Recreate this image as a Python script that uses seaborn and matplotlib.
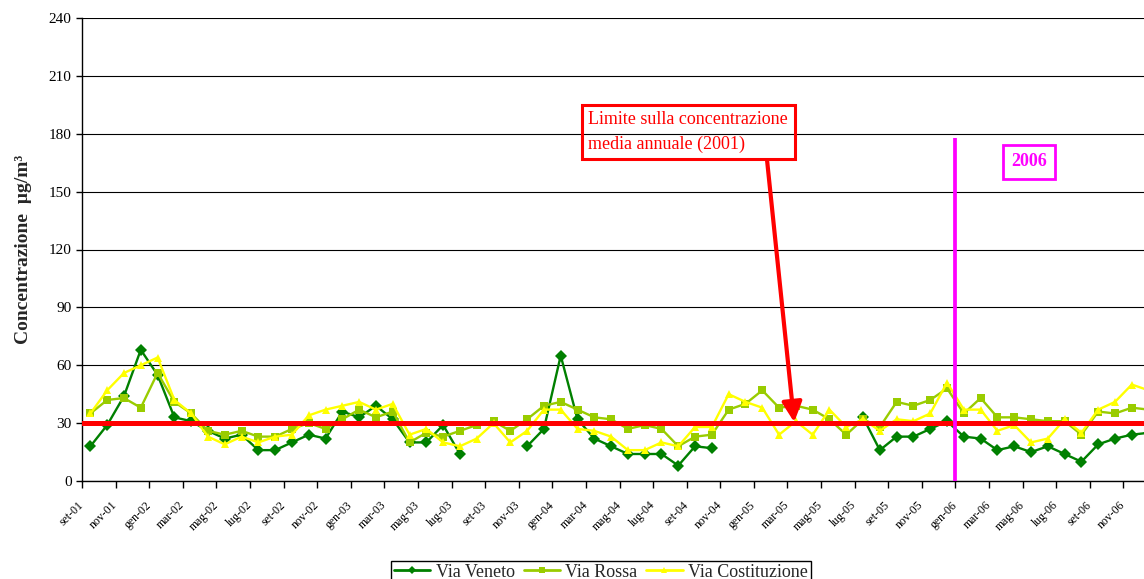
import numpy as np
import pandas as pd
import matplotlib.pyplot as plt
import matplotlib.transforms as mtransforms
import seaborn as sns
from matplotlib.lines import Line2D

# etichette ogni due mesi, da set-01 a nov-06
tick_labels = ["set-01", "nov-01", "gen-02", "mar-02", "mag-02", "lug-02", "set-02", "nov-02",
               "gen-03", "mar-03", "mag-03", "lug-03", "set-03", "nov-03", "gen-04", "mar-04",
               "mag-04", "lug-04", "set-04", "nov-04", "gen-05", "mar-05", "mag-05", "lug-05",
               "set-05", "nov-05", "gen-06", "mar-06", "mag-06", "lug-06", "set-06", "nov-06"]

# medie mensili (set-01 ... dic-06), None = dato mancante
veneto = [18, 29, 44, 68, 55, 33, 31, 26, 22, 24, 16, 16, 20, 24, 22, 36,
          33, 39, 32, 20, 20, 29, 14, None, None, None, 18, 27, 65, 32, 22, 18,
          14, 14, 14, 8, 18, 17, None, None, None, None, None, None, None, None, 33, 16,
          23, 23, 27, 31, 23, 22, 16, 18, 15, 18, 14, 10, 19, 22, 24, 25]
rossa = [35, 42, 43, 38, 56, 41, 35, 26, 24, 26, 23, 23, 27, 30, 27, 32,
         37, 33, 36, 20, 25, 23, 26, 29, 31, 26, 32, 39, 41, 37, 33, 32,
         27, 29, 27, 18, 23, 24, 37, 40, 47, 38, 39, 37, 32, 24, 32, 28,
         41, 39, 42, 48, 35, 43, 33, 33, 32, 31, 31, 24, 36, 35, 38, 37]
costituzione = [35, 47, 56, 60, 64, 42, 35, 23, 19, 23, 20, 23, 24, 34, 37, 39,
                41, 37, 40, 24, 27, 20, 18, 22, 30, 20, 26, 37, 37, 27, 26, 23,
                16, 16, 20, 18, 28, 28, 45, 41, 38, 24, 31, 24, 37, 28, 32, 26,
                32, 31, 35, 51, 37, 37, 26, 29, 20, 22, 32, 25, 37, 41, 50, 47]

stations = ["Via Veneto", "Via Rossa", "Via Costituzione"]
colors = {"Via Veneto": "#008000", "Via Rossa": "#99CC00", "Via Costituzione": "#FFFF00"}
markers = {"Via Veneto": "D", "Via Rossa": "s", "Via Costituzione": "^"}

# formato lungo, con un id di tratto per lasciare i buchi dove mancano i dati
rows = []
for name, vals in zip(stations, [veneto, rossa, costituzione]):
    seg = 0
    for i, v in enumerate(vals):
        if v is None:
            seg += 1
            continue
        rows.append({"mese": i, "valore": v, "stazione": name, "tratto": f"{name}-{seg}"})
df = pd.DataFrame(rows)

sns.set_style("ticks")
plt.rcParams["font.family"] = ["Liberation Serif", "DejaVu Serif"]

fig = plt.figure(figsize=(11.44, 5.79), dpi=100)
ax = fig.add_axes([82 / 1144, 98 / 579, 1075 / 1144, 463 / 579])

sns.lineplot(data=df, x="mese", y="valore", hue="stazione", style="stazione",
             units="tratto", estimator=None, palette=colors, markers=markers,
             dashes=False, linewidth=1.7, markersize=6, markeredgewidth=0,
             legend=False, ax=ax)

# limite annuale e inizio 2006
ax.axhline(30, color="#FF0000", lw=3.6, zorder=5)
ax.vlines(51.5, 0, 178, color="#FF00FF", lw=2.7, zorder=6)

ax.annotate("Limite sulla concentrazione\nmedia annuale (2001)",
            xy=(41.9, 30.5), xytext=(35.6, 181), ha="center", va="center",
            multialignment="left",
            color="#FF0000", fontsize=13, linespacing=1.55, zorder=7,
            bbox=dict(boxstyle="square,pad=0.35", fc="none", ec="#FF0000", lw=2.2),
            arrowprops=dict(arrowstyle="-|>,head_length=0.6,head_width=0.3",
                            color="#FF0000", lw=3, relpos=(0.89, 0),
                            shrinkA=0, shrinkB=0, mutation_scale=20))
ax.text(55.9, 165.4, "2006", color="#FF00FF", fontsize=13, fontweight="bold",
        ha="center", va="center", zorder=7,
        bbox=dict(boxstyle="square,pad=0.45", fc="none", ec="#FF00FF", lw=2))

ax.set_xlim(-0.5, 63.5)
ax.set_ylim(0, 240)
ax.set_yticks(range(0, 241, 30))
ax.grid(axis="y", color="black", lw=0.8)
ax.set_axisbelow(True)

ax.set_xticks(np.arange(-0.5, 63, 2))
ax.set_xticklabels(tick_labels, rotation=45, ha="right", va="top",
                   rotation_mode="anchor", fontsize=8.5)
ax.tick_params(axis="x", length=5, width=1, pad=8, colors="black")
ax.tick_params(axis="y", length=4, width=1, labelsize=11, colors="black")
shift = mtransforms.ScaledTranslation(-3 / 72, 0, fig.dpi_scale_trans)
for lab in ax.get_xticklabels():
    lab.set_transform(lab.get_transform() + shift)

ax.set_xlabel("")
ax.set_ylabel("Concentrazione  µg/m³", fontsize=14, fontweight="bold")
ax.yaxis.set_label_coords(-50 / 1075, 0.5)

for side in ["top", "right"]:
    ax.spines[side].set_visible(False)
for side in ["left", "bottom"]:
    ax.spines[side].set_color("black")
    ax.spines[side].set_linewidth(1)

handles = [Line2D([], [], color=colors[s], marker=markers[s], lw=2, markersize=4,
                  markeredgewidth=0) for s in stations]
leg = fig.legend(handles, stations, loc="upper center",
                 bbox_to_anchor=(601 / 1144, 1 - 552 / 579), ncol=3, frameon=True,
                 fancybox=False, edgecolor="black", fontsize=13, handlelength=2.0,
                 handletextpad=0.3, columnspacing=0.5, borderpad=0.15, framealpha=1)
leg.get_frame().set_linewidth(1)

fig.savefig("out.png", dpi=100)
